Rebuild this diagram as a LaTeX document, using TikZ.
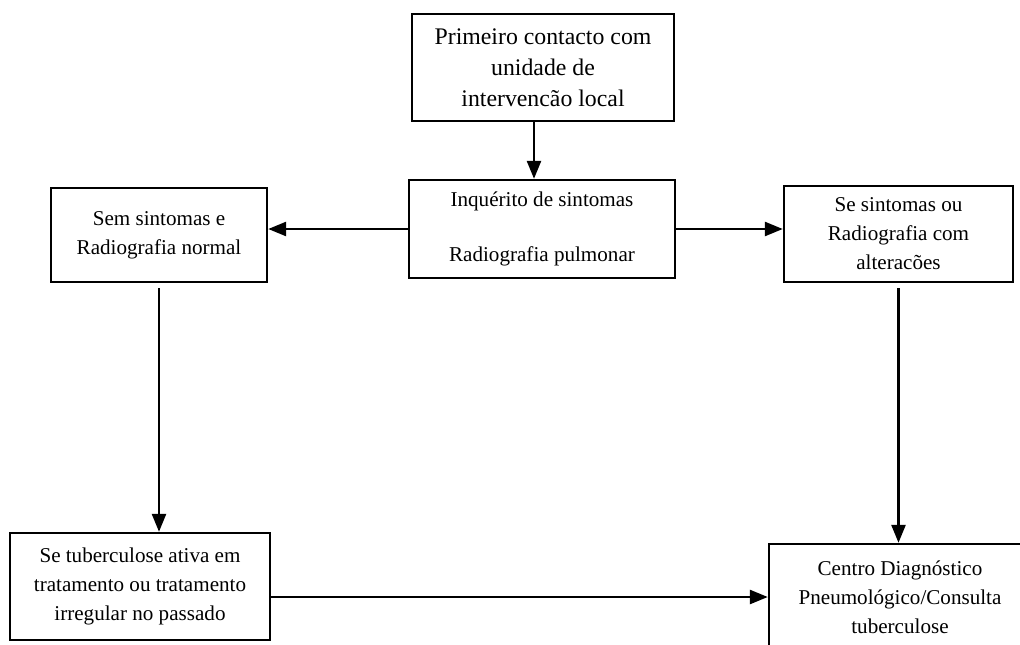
\documentclass[tikz,border=0pt]{standalone}
\usepackage{fontspec}
\setmainfont{Liberation Serif}
\usetikzlibrary{positioning,arrows.meta}

\begin{document}
\begin{tikzpicture}[x=1pt, y=-1pt,
  every node/.style={font=\fontsize{21.1}{29}\selectfont},
  flowbox/.style={draw, line width=2.4pt, align=center, inner sep=4pt},
  topbox/.style ={flowbox, font=\fontsize{23.8}{31}\selectfont},
  arr/.style    ={-{Triangle[length=18pt,width=14pt]}, line width=2.6pt}]

\useasboundingbox (0,0) rectangle (1020,645);
\clip (0,0) rectangle (1020,645);

%% ── Row 1: first contact ─────────────────────────────────────────
\node[topbox, minimum width=262pt, minimum height=107pt] (contacto) at (543,67.5)
  {Primeiro contacto com\\unidade de\\intervencão local};

%% ── Row 2: screening and the two outcomes ───────────────────────
\node[flowbox, minimum width=266pt, minimum height=98pt]  (inquerito) at (542,229)
  {Inquérito de sintomas\\[26pt]Radiografia pulmonar};
\node[flowbox, minimum width=216pt, minimum height=94pt]  (normal)    at (159,235)
  {Sem sintomas e\\Radiografia normal};
\node[flowbox, minimum width=229pt, minimum height=96pt]  (alterada)  at (898.5,234)
  {Se sintomas ou\\Radiografia com\\alteracões};

%% ── Row 3: follow-up ─────────────────────────────────────────────
\node[flowbox, minimum width=260pt, minimum height=107pt] (ativa)  at (140,586.5)
  {Se tuberculose ativa em\\tratamento ou tratamento\\irregular no passado};
\node[flowbox, minimum width=262pt, minimum height=106pt] (centro) at (900,597)
  {Centro Diagnóstico\\Pneumológico/Consulta\\tuberculose};

%% ── Arrows ───────────────────────────────────────────────────────
\draw[arr] ([xshift=-9pt]contacto.south) -- ([xshift=-9pt]contacto.south |- inquerito.north);
\draw[arr] (inquerito.west) -- (normal.east |- inquerito.west);
\draw[arr] (inquerito.east) -- (alterada.west |- inquerito.east);
\draw[arr] ([yshift=-5pt]normal.south) -- (normal.south |- ativa.north);
\draw[arr] ([yshift=-5pt]alterada.south) -- (alterada.south |- centro.north);
\draw[arr] (ativa.east |- centro.west) -- (centro.west);
\end{tikzpicture}
\end{document}
